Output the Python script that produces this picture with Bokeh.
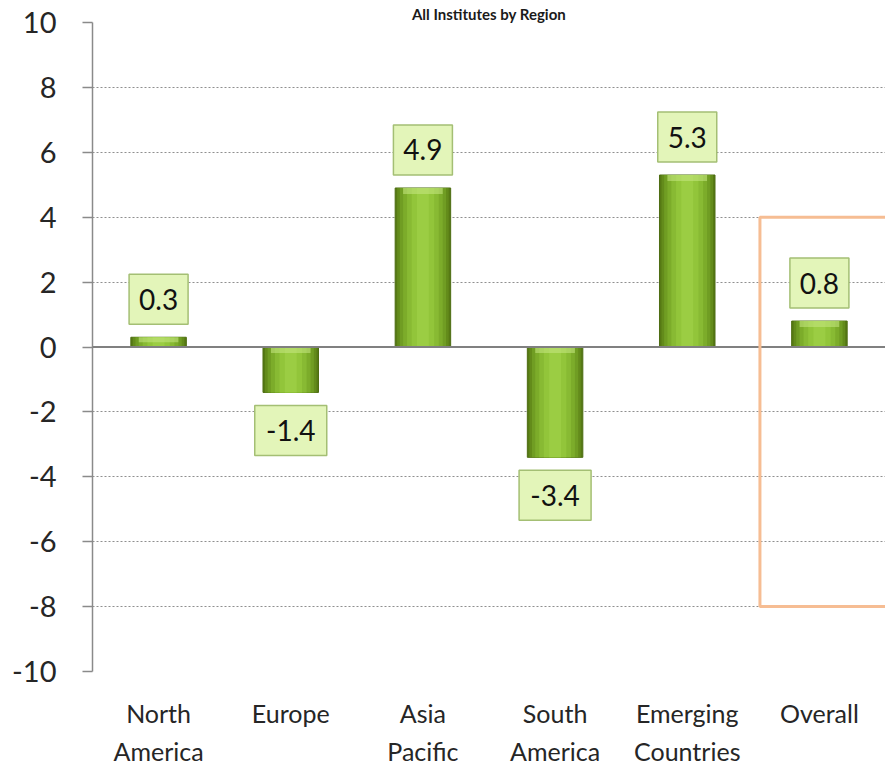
from bokeh.plotting import figure
from bokeh.models import (ColumnDataSource, Span, BoxAnnotation, FactorRange,
                          Range1d, FixedTicker, CategoricalAxis, CustomJSTickFormatter)
from bokeh.core.properties import value
from bokeh.embed import file_html
from bokeh.resources import INLINE

# ---------------- data ----------------
categories = ["North America", "Europe", "Asia Pacific", "South America",
              "Emerging Countries", "Overall"]
label_line1 = ["North", "Europe", "Asia", "South", "Emerging", "Overall"]
label_line2 = ["America", "", "Pacific", "America", "Countries", ""]
values = [0.3, -1.4, 4.9, -3.4, 5.3, 0.8]
value_labels = ["0.3", "-1.4", "4.9", "-3.4", "5.3", "0.8"]
y_ticks = [-10, -8, -6, -4, -2, 0, 2, 4, 6, 8, 10]
title_text = "All Institutes by Region"
highlight_category = "Overall"
highlight_top = 4
highlight_bottom = -8

# ---------------- layout ----------------
W, H = 885, 768
BORDER_L, BORDER_T, BORDER_B = 92, 22, 97
FRAME_H = H - BORDER_T - BORDER_B
Y_MIN, Y_MAX = -10, 10
px_per_unit = FRAME_H / (Y_MAX - Y_MIN)
label_offset = 38 / px_per_unit
bevel = 6 / px_per_unit

FONT = "Lato"

p = figure(width=W, height=H, x_range=FactorRange(factors=categories),
           y_range=Range1d(Y_MIN, Y_MAX), output_backend="svg",
           toolbar_location=None, min_border_left=BORDER_L, min_border_right=0,
           min_border_top=BORDER_T, min_border_bottom=BORDER_B,
           outline_line_color=None, background_fill_color="white",
           title=title_text)

p.title.align = "center"
p.title.offset = -36
p.title.standoff = 0
p.title.text_font = FONT
p.title.text_font_size = "15px"
p.title.text_font_style = "bold"
p.title.text_color = "#1a1a1a"

# grid
p.xgrid.visible = False
p.ygrid.ticker = FixedTicker(ticks=y_ticks)
p.ygrid.grid_line_color = "#8f8f8f"
p.ygrid.grid_line_dash = "2 2"
p.ygrid.grid_line_width = 1

# y axis
p.yaxis.ticker = FixedTicker(ticks=y_ticks)
p.yaxis.major_label_overrides = {t: str(t) for t in y_ticks}
p.yaxis.axis_line_color = "#8a8a8a"
p.yaxis.axis_line_width = 1.5
p.yaxis.major_tick_line_color = "#8a8a8a"
p.yaxis.major_tick_line_width = 1.5
p.yaxis.major_tick_out = 10
p.yaxis.major_tick_in = 0
p.yaxis.minor_tick_line_color = None
p.yaxis.major_label_standoff = 26
p.yaxis.major_label_text_font = FONT
p.yaxis.major_label_text_font_size = "29px"
p.yaxis.major_label_text_color = "#262626"


def style_cat_axis(ax, labels, standoff):
    ax.axis_line_color = None
    ax.major_tick_line_color = None
    ax.minor_tick_line_color = None
    ax.major_tick_out = 0
    ax.major_tick_in = 0
    ax.formatter = CustomJSTickFormatter(
        args=dict(labels=dict(zip(categories, labels))),
        code="return (tick in labels) ? labels[tick] : tick;")
    ax.major_label_standoff = standoff
    ax.major_label_text_font = FONT
    ax.major_label_text_font_size = "25px"
    ax.major_label_text_color = "#262626"


# x axis: first line of each category label
style_cat_axis(p.xaxis[0], label_line1, 26)
# second axis: second line of each category label
ax2 = CategoricalAxis()
style_cat_axis(ax2, label_line2, 5)
p.add_layout(ax2, "below")

# zero line
p.add_layout(Span(location=0, dimension="width", line_color="#808080", line_width=2))

# bars (layered to imitate the horizontal gradient)
src = ColumnDataSource(dict(cat=categories, val=values,
                            top_edge=[max(v, 0) for v in values],
                            bev=[max(v, 0) - min(bevel, abs(v) * 0.5) for v in values]))
layers = [(0.42, "#567914"), (0.39, "#638b1b"), (0.35, "#709d23"),
          (0.30, "#7cac2a"), (0.24, "#88ba33"), (0.17, "#92c53a"),
          (0.09, "#9bcd43")]
for i, (w, c) in enumerate(layers):
    p.vbar(x="cat", top="val", bottom=0, width=w, source=src, fill_color=c,
           line_color="#4d6d12" if i == 0 else None, line_width=1)
# bevel highlight along each bar's top edge
p.vbar(x="cat", top="top_edge", bottom="bev", width=0.3, source=src,
       fill_color="#c6e884", fill_alpha=0.55, line_color=None)

# value labels in boxes
label_y = [v + label_offset if v >= 0 else v - label_offset for v in values]
box_w = [20 + 13 * len(s) for s in value_labels]
lsrc = ColumnDataSource(dict(cat=categories, y=label_y, t=value_labels, w=box_w))
p.rect(x="cat", y="y", width="w", height=50, width_units="screen",
       height_units="screen", source=lsrc, fill_color="#e3f5b9",
       line_color="#a4bf74", line_width=1.5)
p.text(x="cat", y="y", text="t", source=lsrc, text_align="center",
       text_baseline="middle", text_font=value(FONT), text_font_size="28px",
       text_color="#111111")

# highlight box around Overall
idx = categories.index(highlight_category)
p.add_layout(BoxAnnotation(left=idx + 0.05, right=idx + 1.3, top=highlight_top,
                           bottom=highlight_bottom, fill_alpha=0, line_alpha=1,
                           line_color="#f6bd93", line_width=3))

open("out.html", "w").write(file_html(p, INLINE))
